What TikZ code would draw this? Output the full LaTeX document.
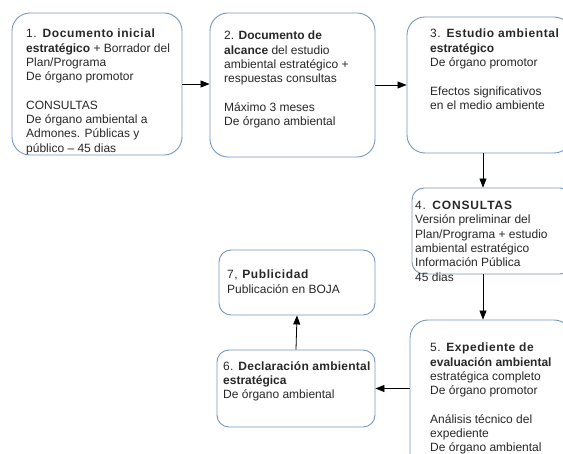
\documentclass[tikz,border=0pt]{standalone}
\usepackage{fontspec}
\setmainfont{Liberation Sans}
\usepackage{xcolor}
\usetikzlibrary{positioning, arrows.meta}
\definecolor{boxline}{RGB}{120,150,190}
\definecolor{boxtext}{RGB}{40,40,40}
\newcommand{\spaced}[1]{\addfontfeature{LetterSpace=#1}}

\begin{document}
\begin{tikzpicture}[
x=1pt, y=-1pt,
box/.style={draw=boxline, line width=0.9pt, fill=white, rounded corners=18pt},
smallbox/.style={box, rounded corners=12pt},
txt/.style={anchor=north west, inner sep=0pt, align=left, text=boxtext, font=\fontsize{12}{14.3}\selectfont},
arrow/.style={-{Triangle[length=9pt, width=7pt]}, line width=0.8pt, draw=black}
]
\useasboundingbox (0,0) rectangle (563,454);
\clip (0,0) rectangle (563,454);

% ====== Boxes ======
\node[box, minimum width=170, minimum height=142] (inicial) at (97,84) {};
\node[box, minimum width=165, minimum height=144] (alcance) at (292.5,85) {};
\node[box, minimum width=165, minimum height=136] (estudio) at (489.5,85) {};
\node[smallbox, minimum width=160, minimum height=86] (consultas) at (492,231) {};
\node[box, minimum width=162, minimum height=155] (expediente) at (491,397.5) {};
\node[smallbox, minimum width=158, minimum height=77] (declaracion) at (296,388.5) {};
\node[smallbox, minimum width=156, minimum height=65] (publicidad) at (297,282.5) {};

% ====== Texts ======
\node[txt] (tinicial) at (26,29) {\spaced{5}1. \textbf{Documento inicial}\\
\textbf{estratégico} + Borrador del\\ Plan/Programa\\ De órgano promotor\\[14.3pt]
CONSULTAS\\ De órgano ambiental a\\ Admones. Públicas y\\ público – 45 dias};
\node[txt] (talcance) at (224,31) {2. \textbf{Documento de}\\
\textbf{alcance} del estudio\\ ambiental estratégico +\\ respuestas consultas\\[14.3pt]
Máximo 3 meses\\ De órgano ambiental};
\node[txt] (testudio) at (430,29) {\spaced{5}3. \textbf{Estudio ambiental}\\
\textbf{estratégico}\\ De órgano promotor\\[14.3pt]
Efectos significativos\\ en el medio ambiente};
\node[txt] (tconsultas) at (415,201) {\spaced{7}4. \textbf{CONSULTAS}\\
Versión preliminar del\\ Plan/Programa + estudio\\ ambiental estratégico\\
Información Pública\\ 45 dias};
\node[txt] (texpediente) at (430,343) {\spaced{4.5}5. \textbf{Expediente de}\\
\textbf{evaluación ambiental}\\ estratégica completo\\ De órgano promotor\\[14.3pt]
Análisis técnico del\\ expediente\\ De órgano ambiental};
\node[txt] (tdeclaracion) at (223,361) {\spaced{2}6. \textbf{Declaración ambiental}\\
\textbf{estratégica}\\ De órgano ambiental};
\node[txt] (tpublicidad) at (227,270) {\spaced{5}7, \textbf{Publicidad}\\ Publicación en BOJA};

% ====== Connections ======
\coordinate (colx) at (483,0);
\draw[arrow] (inicial.east) -- (inicial.east -| alcance.west);
\draw[arrow] (alcance.east) -- (alcance.east -| estudio.west);
\draw[arrow] (estudio.south -| colx) -- (consultas.north -| colx);
\draw[arrow] (consultas.south -| colx) -- (expediente.north -| colx);
\draw[arrow] (declaracion.east -| expediente.west) -- (declaracion.east);
\draw[arrow] (declaracion.north) -- (publicidad.south);

\end{tikzpicture}
\end{document}
